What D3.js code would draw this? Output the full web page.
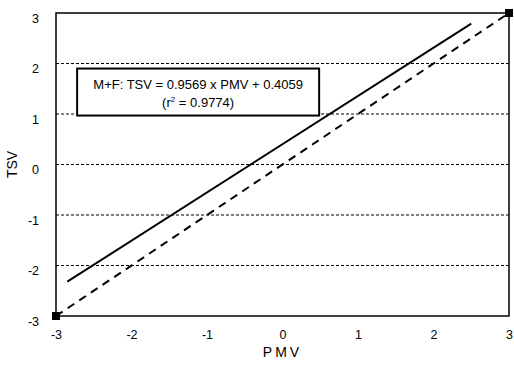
<!DOCTYPE html>
<html>
<head>
<meta charset="utf-8">
<script src="https://cdn.jsdelivr.net/npm/d3@7"></script>
<style>
  body { margin: 0; background: #fff; }
  text { font-family: "Liberation Sans", Arial, sans-serif; fill: #000; }
</style>
</head>
<body>
<div id="chart"></div>
<script>
// chart values
const xTicks = [-3, -2, -1, 0, 1, 2, 3];
const yTicks = [-3, -2, -1, 0, 1, 2, 3];
const gridValues = [-2, -1, 0, 1, 2];
// regression line endpoints (PMV, TSV)
const fitPMV = [-2.85, 2.5];
const fitTSV = [-2.32, 2.79];
// 1:1 line endpoints
const unityPMV = [-3, 3];
const unityTSV = [-3, 3];
const labelLines = ["M+F: TSV = 0.9569 x PMV + 0.4059", "(r", "2", " = 0.9774)"];

const width = 514, height = 367;
const margin = {left: 56, right: 5, top: 13, bottom: 51};
const plot_w = width - margin.left - margin.right;
const plot_h = height - margin.top - margin.bottom;

let svg = d3.select("#chart")
    .append("svg")
    .attr("width", width)
    .attr("height", height);

let g = svg.append("g")
    .attr("transform", `translate(${margin.left}, ${margin.top})`);

let x = d3.scaleLinear().domain([-3, 3]).range([0, plot_w]);
let y = d3.scaleLinear().domain([-3, 3]).range([plot_h, 0]);

// dashed grid lines
g.selectAll(".grid")
    .data(gridValues)
    .enter()
    .append("line")
    .attr("x1", 0)
    .attr("x2", plot_w)
    .attr("y1", d => y(d))
    .attr("y2", d => y(d))
    .attr("stroke", "#000")
    .attr("stroke-width", 1)
    .attr("stroke-dasharray", "3,2");

// frame
g.append("rect")
    .attr("width", plot_w)
    .attr("height", plot_h)
    .attr("fill", "none")
    .attr("stroke", "#000")
    .attr("stroke-width", 1.5);

// axes (labels only), plain hyphen for minus
let fmt = d => String(d);
let xAxis = g.append("g")
    .attr("transform", `translate(0, ${plot_h})`)
    .call(d3.axisBottom(x).tickValues(xTicks).tickSize(0).tickPadding(14).tickFormat(fmt));
let yAxis = g.append("g")
    .call(d3.axisLeft(y).tickValues(yTicks).tickSize(0).tickPadding(17).tickFormat(fmt));
[xAxis, yAxis].forEach(a => {
    a.select(".domain").remove();
    a.selectAll("text").style("font-size", "12.5px").attr("font-family", "Liberation Sans, Arial, sans-serif");
});
yAxis.selectAll("text").attr("dy", "0.75em");

// 1:1 dashed line
let line = d3.line().x(d => x(d[0])).y(d => y(d[1]));
g.append("path")
    .datum(d3.zip(unityPMV, unityTSV))
    .attr("d", line)
    .attr("fill", "none")
    .attr("stroke", "#000")
    .attr("stroke-width", 2)
    .attr("stroke-dasharray", "8,6");

// regression line
g.append("path")
    .datum(d3.zip(fitPMV, fitTSV))
    .attr("d", line)
    .attr("fill", "none")
    .attr("stroke", "#000")
    .attr("stroke-width", 2);

// square markers at ends of 1:1 line
g.selectAll(".marker")
    .data(d3.zip(unityPMV, unityTSV))
    .enter()
    .append("rect")
    .attr("x", d => x(d[0]) - 4)
    .attr("y", d => y(d[1]) - 4)
    .attr("width", 8)
    .attr("height", 8)
    .attr("fill", "#000");

// equation box
let bw = 242, bh = 47;
let box = g.append("g").attr("transform", `translate(${x(-2.72)}, ${y(1.9)})`);
box.append("rect")
    .attr("width", bw)
    .attr("height", bh)
    .attr("fill", "#fff")
    .attr("stroke", "#000")
    .attr("stroke-width", 2);
box.append("text")
    .attr("x", bw / 2)
    .attr("y", 20)
    .attr("text-anchor", "middle")
    .style("font-size", "13px")
    .text(labelLines[0]);
let t2 = box.append("text")
    .attr("x", bw / 2)
    .attr("y", 38)
    .attr("text-anchor", "middle")
    .style("font-size", "13px");
t2.append("tspan").text(labelLines[1]);
t2.append("tspan").attr("dy", -5).style("font-size", "8px").text(labelLines[2]);
t2.append("tspan").attr("dy", 5).text(labelLines[3]);

// axis titles
svg.append("text")
    .attr("x", margin.left + plot_w / 2)
    .attr("y", 357)
    .attr("text-anchor", "middle")
    .style("font-size", "14px")
    .style("letter-spacing", "3px")
    .text("PMV");

svg.append("text")
    .attr("transform", `translate(17, ${margin.top + plot_h / 2}) rotate(-90)`)
    .attr("text-anchor", "middle")
    .style("font-size", "14px")
    .text("TSV");
</script>
</body>
</html>
